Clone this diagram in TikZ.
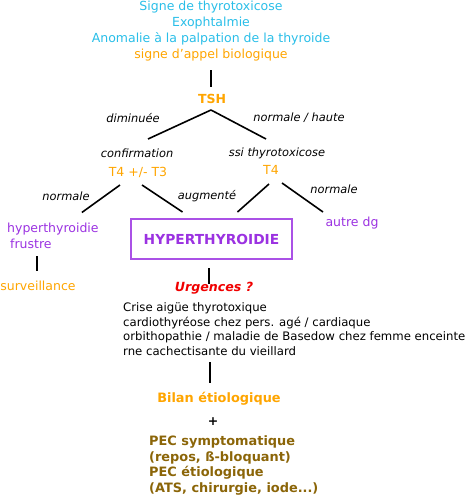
\documentclass[tikz,border=0pt]{standalone}
\usepackage{fontspec}
\setmainfont{DejaVu Sans}
\usetikzlibrary{calc}
\definecolor{signcyan}{RGB}{41,190,232}
\definecolor{bioorange}{RGB}{255,165,0}
\definecolor{diagpurple}{RGB}{155,50,225}
\definecolor{pecbrown}{RGB}{139,101,8}
\definecolor{urgred}{RGB}{240,0,0}

\begin{document}
\begin{tikzpicture}[
    x=1pt, y=-1pt,
    txt/.style={inner sep=0pt, font=\fontsize{12.5}{16}\selectfont, align=center},
    lbl/.style={inner sep=0pt, font=\fontsize{11.4}{13}\selectfont\itshape},
    bold/.style={inner sep=0pt, font=\fontsize{#1}{15.7}\selectfont\bfseries},
    bold/.default=12.5,
    ln/.style={line width=1.6pt}
]
\useasboundingbox (0,0) rectangle (468,498);
% signes d'appel
\node[txt, text=signcyan] (signs) at (211,31) {Signe de thyrotoxicose\\Exophtalmie\\Anomalie à la palpation de la thyroide\\\textcolor{bioorange}{signe d'appel biologique}};
\node[bold, text=bioorange] (tsh) at (212,99) {TSH};
\draw[ln] ($(tsh)+(-1,-29)$) -- ($(tsh)+(-1,-12)$);
% premier niveau
\node[lbl] (conf) at (137,153) {confirmation};
\node[txt, text=bioorange] (t4t3) at (138,172) {T4 +/- T3};
\node[lbl] (ssi) at (277,153) {ssi thyrotoxicose};
\node[txt, text=bioorange] (t4) at (271,170) {T4};
\node[lbl] (dim) at (133,118) {diminuée};
\node[lbl] (nh) at (299,118) {normale / haute};
\draw[ln] ($(tsh)+(-1,11)$) -- ($(conf)+(11,-14)$);
\draw[ln] ($(tsh)+(-1,11)$) -- ($(ssi)+(-11,-14)$);
% diagnostic
\node[draw=diagpurple!85, line width=2pt, minimum width=161pt, minimum height=40pt, text=diagpurple, font=\fontsize{13.8}{16}\selectfont\bfseries] (hyper) at (211.5,239) {HYPERTHYROIDIE};
\node[txt, align=left, anchor=west, text=diagpurple] (frustre) at (7,235.5) {hyperthyroidie\\\hspace{3pt}frustre};
\node[txt, text=diagpurple] (autre) at (352,223) {autre dg};
\node[lbl] (norml) at (66,196) {normale};
\node[lbl] (aug) at (207,196) {augmenté};
\node[lbl] (normr) at (334,189) {normale};
\draw[ln] ($(t4t3)+(-18,13)$) -- ($(frustre.north)+(29,-10)$);
\draw[ln] ($(t4t3)+(4,13)$) -- ($(hyper)+(-29,-27)$);
\draw[ln] ($(t4)+(-2,14)$) -- ($(hyper)+(26,-27)$);
\draw[ln] ($(t4)+(11,13)$) -- ($(autre)+(-29,-11)$);
\node[txt, text=bioorange] (surv) at (38,286) {surveillance};
\draw[ln] ($(surv)+(-1,-30)$) -- ($(surv)+(-1,-15)$);
% urgences
\node[inner sep=0pt, font=\fontsize{12.6}{14}\selectfont\bfseries\itshape, text=urgred] (urg) at (214,288) {Urgences ?};
\draw[ln] ($(urg)+(-5,-20)$) -- ($(urg)+(-5,-4)$);
\node[txt, align=left, anchor=west, font=\fontsize{11.7}{14.7}\selectfont] (urglist) at (123,329) {Crise aigüe thyrotoxique\\cardiothyréose chez pers. agé / cardiaque\\orbithopathie / maladie de Basedow chez femme enceinte\\rne cachectisante du vieillard};
% prise en charge
\node[bold=12.9, text=bioorange] (bilan) at (219,399) {Bilan étiologique};
\draw[ln] ($(bilan)+(-9,-37)$) -- ($(bilan)+(-9,-16)$);
\node[bold] (plus) at (213,422) {+};
\node[bold=12.9, align=left, anchor=west, text=pecbrown] (pec) at (149,465.5) {PEC symptomatique\\(repos, ß-bloquant)\\PEC étiologique\\(ATS, chirurgie, iode...)};
\end{tikzpicture}
\end{document}
